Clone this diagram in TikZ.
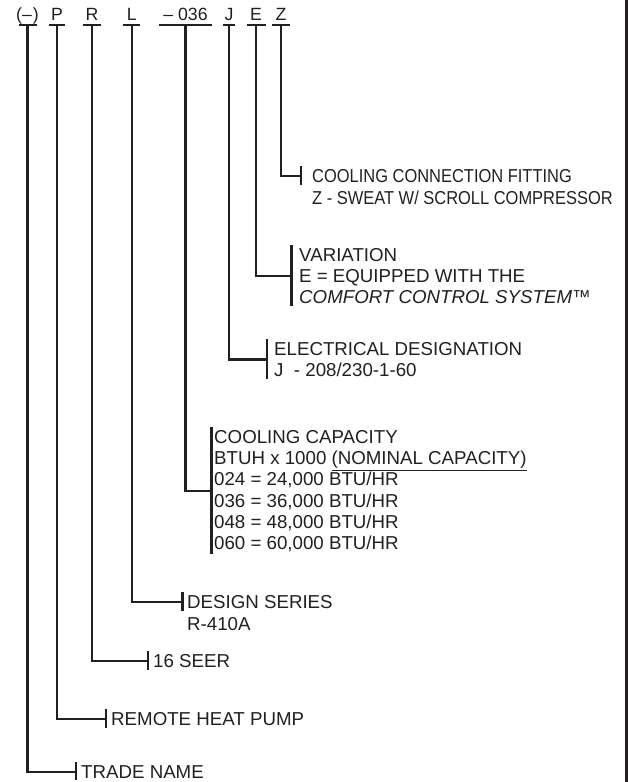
\documentclass[tikz,border=0pt]{standalone}
\usepackage{fontspec}
\setmainfont{Liberation Sans}
\newfontfamily\narrowfont[FakeStretch=0.88]{Liberation Sans}
\usetikzlibrary{positioning}
\definecolor{ink}{RGB}{35,31,32}

% bar at the left of a label, and the leader from a code letter to it
\newcommand{\labeltick}[2]{%
  \draw[leader] ([xshift=-#2pt,yshift=3pt]#1.north west) -- ([xshift=-#2pt,yshift=-2pt]#1.south west);}
\newcommand{\branch}[3]{%
  \draw[leader] ([yshift=-5pt]#1.base) |- ([xshift=-#3pt]#2.west);
  \labeltick{#2}{#3}}

\begin{document}
\begin{tikzpicture}[
    x=1pt, y=-1pt,
    leader/.style={
        draw=ink,
        line width=2.2pt
    },
    code/.style={
        anchor=base,
        inner sep=0pt,
        text=ink,
        font=\fontsize{17.7}{21.3}\selectfont
    },
    lbl/.style={
        anchor=north west,
        inner sep=0pt,
        align=left,
        text=ink,
        font=\fontsize{18.7}{21.3}\selectfont
    },
    narrowlbl/.style={
        lbl,
        font=\narrowfont\fontsize{18.7}{21.3}\selectfont
    }
]
    \useasboundingbox (0,0) rectangle (628,782);
    \draw[leader] (626.5,0) -- (626.5,782);

    % model number, letter by letter
    \foreach \nm/\txt/\xx/\hw in {pfx/{(–\kern1pt)}/27.5/9, pump/P/57/8, seer/R/92/9,
        series/L/131.7/8.5, cap/{– 036}/185.5/26.5, elec/J/229/6, vari/E/256/9.5, fitting/Z/281/9}{
        \node[code] (\nm) at (\xx,20) {\txt};
        \draw[leader] ([xshift=-\hw pt,yshift=-5pt]\nm.base) -- ([xshift=\hw pt,yshift=-5pt]\nm.base);
    }

    % descriptions
    \node[narrowlbl] (fitlbl) at (312,169) {COOLING CONNECTION FITTING};
    \node[narrowlbl, below=8.1pt of fitlbl.south west, anchor=north west] (fitlbl2) {Z - SWEAT W/ SCROLL COMPRESSOR};
    \node[lbl] (varilbl) at (299,248) {VARIATION\\E = EQUIPPED WITH THE\\\textit{COMFORT CONTROL SYSTEM™}};
    \node[lbl] (eleclbl) at (274,342) {ELECTRICAL DESIGNATION\\J\ \ - 208/230-1-60};
    \node[lbl] (caplbl) at (214,430) {COOLING CAPACITY\\BTUH x 1000 \underline{(NOMINAL CAPACITY)}\\
        024 = 24,000 BTU/HR\\036 = 36,000 BTU/HR\\048 = 48,000 BTU/HR\\060 = 60,000 BTU/HR};
    \node[lbl] (serieslbl) at (187,595) {DESIGN SERIES};
    \node[lbl, below=8.1pt of serieslbl.south west, anchor=north west] (serieslbl2) {R-410A};
    \node[lbl] (seerlbl) at (153,654) {16 SEER};
    \node[lbl] (pumplbl) at (111,712) {REMOTE HEAT PUMP};
    \node[lbl] (tradelbl) at (81,765) {TRADE NAME};

    % leaders
    \branch{fitting}{fitlbl}{11}
    \branch{vari}{varilbl}{7.5}
    \branch{elec}{eleclbl}{7}
    \branch{cap}{caplbl}{2.5}
    \branch{series}{serieslbl}{4.5}
    \branch{seer}{seerlbl}{5}
    \branch{pump}{pumplbl}{5}
    \branch{pfx}{tradelbl}{5}
\end{tikzpicture}
\end{document}
